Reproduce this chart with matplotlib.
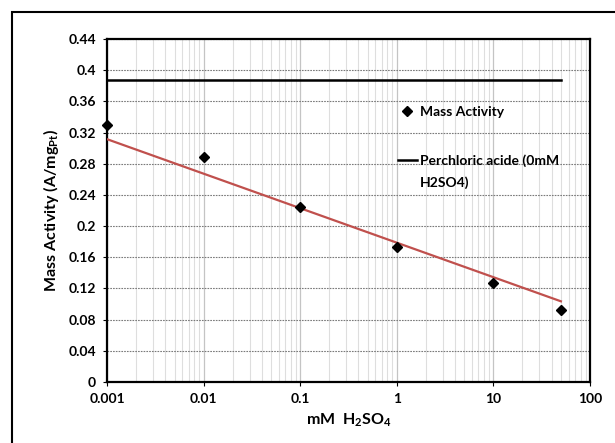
import numpy as np
import matplotlib
matplotlib.use("Agg")
import matplotlib.pyplot as plt
from matplotlib.patches import Rectangle

plt.rcParams['font.family'] = ['Lato', 'DejaVu Sans']
plt.rcParams['font.weight'] = 'bold'
plt.rcParams['mathtext.fontset'] = 'custom'
plt.rcParams['mathtext.rm'] = 'Lato:bold'
plt.rcParams['mathtext.it'] = 'Lato:bold'
plt.rcParams['mathtext.bf'] = 'Lato:bold'

# donnees
conc_mM = [0.001, 0.01, 0.1, 1, 10, 50]
mass_activity = [0.330, 0.289, 0.2245, 0.173, 0.127, 0.0925]
perchloric_x = [0.001, 50]
perchloric_y = [0.388, 0.388]
# courbe de tendance (extremites)
trend_x = [0.001, 50]
trend_y = [0.3115, 0.1035]
y_ticks = [0, 0.04, 0.08, 0.12, 0.16, 0.2, 0.24, 0.28, 0.32, 0.36, 0.4, 0.44]
y_labels = ["0", "0.04", "0.08", "0.12", "0.16", "0.2", "0.24", "0.28", "0.32", "0.36", "0.4", "0.44"]
x_ticks = [0.001, 0.01, 0.1, 1, 10, 100]
x_labels = ["0.001", "0.01", "0.1", "1", "10", "100"]

fig = plt.figure(figsize=(6.15, 4.43), dpi=100)
ax = fig.add_axes([107/615, 1 - 382/443, (590-107)/615, (382-39)/443])

ax.set_xscale('log')
ax.set_xlim(0.001, 100)
ax.set_ylim(0, 0.44)

ax.grid(True, which='minor', axis='x', color='#dedede', linewidth=0.8)
ax.grid(True, which='major', axis='x', color='#c4c4c4', linewidth=0.9)
ax.grid(True, which='major', axis='y', color='#7a7a7a', linewidth=0.8, linestyle=(0, (1.5, 1)))
ax.set_axisbelow(True)

ax.plot(perchloric_x, perchloric_y, color='black', linewidth=1.8,
        label="Perchloric acide (0mM", zorder=3)
ax.plot(trend_x, trend_y, color='#c0504d', linewidth=1.6, zorder=3)
ax.plot(conc_mM, mass_activity, linestyle='none', marker='D', markersize=5,
        color='black', label="Mass Activity", zorder=4, clip_on=False)

ax.set_xticks(x_ticks)
ax.set_xticklabels(x_labels, fontweight='bold')
ax.set_yticks(y_ticks)
ax.set_yticklabels(y_labels, fontweight='bold')
ax.tick_params(axis='both', which='major', labelsize=10, length=3, pad=5)
ax.tick_params(axis='x', which='minor', length=0)
for s in ax.spines.values():
    s.set_linewidth(1.6)
    s.set_color('black')

ax.set_xlabel(r"mM  H$_2$SO$_4$", fontsize=11.5, fontweight='bold', labelpad=5)
ax.set_ylabel(r"Mass Activity (A/mg$_{Pt}$)", fontsize=11.5, fontweight='bold', labelpad=5)

handles, labels = ax.get_legend_handles_labels()
leg = ax.legend(handles[::-1], labels[::-1], loc='upper left',
                bbox_to_anchor=(0.59, 0.822), frameon=False,
                prop={'size': 10, 'weight': 'bold'},
                handlelength=1.4, handletextpad=0.2, labelspacing=2.65,
                borderaxespad=0)
# suite du libelle de la legende (retour a la ligne comme dans Excel)
ax.text(0.648, 0.580, "H2SO4)", transform=ax.transAxes, fontsize=10,
        fontweight='bold', va='center', ha='left')

fig.add_artist(Rectangle((12/615, -0.1), 1.0, 1 - 12/443 + 0.1,
                         transform=fig.transFigure, fill=False,
                         edgecolor='black', linewidth=1.5))

fig.savefig("out.png", dpi=100)
